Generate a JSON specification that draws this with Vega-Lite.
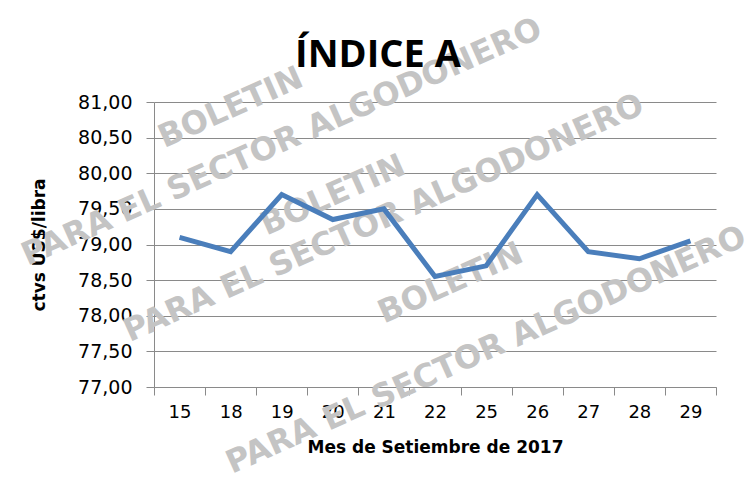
{
  "$schema": "https://vega.github.io/schema/vega-lite/v6.json",
  "width": 562,
  "height": 285,
  "autosize": {"type": "none"},
  "padding": {"left": 154, "top": 102, "right": 31, "bottom": 95},
  "background": "white",
  "title": {
    "text": "ÍNDICE A",
    "font": "Open Sans",
    "fontSize": 38,
    "fontWeight": "bold",
    "color": "black",
    "anchor": "middle",
    "baseline": "bottom",
    "dx": -57,
    "offset": -101
  },
  "datasets": {
    "serie": [
      {"dia": "15", "v": 79.10},
      {"dia": "18", "v": 78.90},
      {"dia": "19", "v": 79.70},
      {"dia": "20", "v": 79.35},
      {"dia": "21", "v": 79.50},
      {"dia": "22", "v": 78.55},
      {"dia": "25", "v": 78.70},
      {"dia": "26", "v": 79.70},
      {"dia": "27", "v": 78.90},
      {"dia": "28", "v": 78.80},
      {"dia": "29", "v": 79.05}
    ],
    "marca": [
      {"dia": "18", "v": 80.92, "t": "BOLETIN"},
      {"dia": "19", "v": 80.44, "t": "PARA EL SECTOR ALGODONERO"},
      {"dia": "20", "v": 79.69, "t": "BOLETIN"},
      {"dia": "21", "v": 79.37, "t": "PARA EL SECTOR ALGODONERO"},
      {"dia": "22", "v": 78.36, "t": "BOLETIN"},
      {"dia": "25", "v": 77.52, "t": "PARA EL SECTOR ALGODONERO"}
    ]
  },
  "encoding": {
    "x": {
      "field": "dia",
      "type": "nominal",
      "sort": null,
      "scale": {
        "type": "band",
        "domain": ["15", "18", "19", "20", "21", "22", "25", "26", "27", "28", "29"],
        "paddingInner": 0,
        "paddingOuter": 0
      },
      "axis": {
        "title": "Mes de Setiembre de 2017",
        "titleFont": "DejaVu Sans",
        "titleFontSize": 17,
        "titleFontWeight": "bold",
        "titleColor": "black",
        "titlePadding": 18,
        "labelFont": "DejaVu Sans",
        "labelFontSize": 18,
        "labelColor": "black",
        "labelAngle": 0,
        "labelPadding": 8,
        "tickBand": "extent",
        "tickSize": 8,
        "tickColor": "#8a8a8a",
        "domainColor": "#8a8a8a",
        "grid": false
      }
    },
    "y": {
      "field": "v",
      "type": "quantitative",
      "scale": {"domain": [77, 81], "nice": false, "zero": false},
      "axis": {
        "title": "ctvs US$/libra",
        "titleFont": "DejaVu Sans",
        "titleFontSize": 17,
        "titleFontWeight": "bold",
        "titleColor": "black",
        "titlePadding": 29,
        "values": [77, 77.5, 78, 78.5, 79, 79.5, 80, 80.5, 81],
        "labelExpr": "replace(format(datum.value, '.2f'), '.', ',')",
        "labelFont": "DejaVu Sans",
        "labelFontSize": 19,
        "labelColor": "black",
        "labelPadding": 14,
        "tickSize": 8,
        "tickColor": "#8a8a8a",
        "domainColor": "#8a8a8a",
        "grid": true,
        "gridColor": "#8a8a8a",
        "gridWidth": 1
      }
    }
  },
  "layer": [
    {
      "data": {"name": "marca"},
      "transform": [{"filter": "datum.dia != '22'"}],
      "mark": {
        "type": "text",
        "angle": -24,
        "font": "DejaVu Sans",
        "fontWeight": "bold",
        "fontSize": 32,
        "color": "#c4c4c4",
        "align": "center",
        "baseline": "middle",
        "clip": false
      },
      "encoding": {
        "text": {"field": "t"}
      }
    },
    {
      "data": {"name": "marca"},
      "transform": [{"filter": "datum.dia == '22'"}],
      "mark": {
        "type": "text",
        "angle": -24,
        "dx": 17,
        "font": "DejaVu Sans",
        "fontWeight": "bold",
        "fontSize": 32,
        "color": "#c4c4c4",
        "align": "center",
        "baseline": "middle",
        "clip": false
      },
      "encoding": {
        "text": {"field": "t"}
      }
    },
    {
      "data": {"name": "serie"},
      "mark": {"type": "line", "color": "#4a7ebb", "strokeWidth": 5},
      "encoding": {}
    }
  ],
  "config": {"view": {"stroke": null}}
}
